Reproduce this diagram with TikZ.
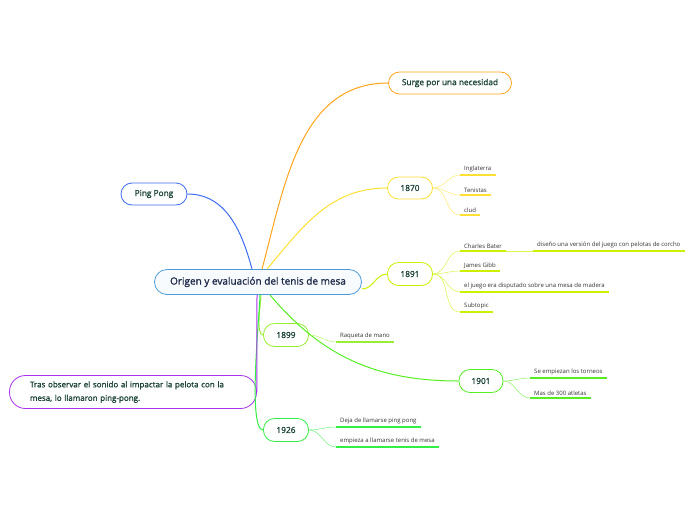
\documentclass[tikz,border=0pt]{standalone}
\usepackage{fontspec}
\setmainfont{Open Sans}
\newfontfamily\semifont{Open Sans}[BoldFont=Open Sans, BoldFeatures={FakeBold=1.2}]
\usepackage{tikz}
\usetikzlibrary{positioning, calc}
\usepackage{xcolor}
\definecolor{xblue}{HTML}{3D6BF0}
\definecolor{xorange}{HTML}{FFA31A}
\definecolor{xyellow}{HTML}{FFE033}
\definecolor{xlime}{HTML}{CCF000}
\definecolor{xgreena}{HTML}{99EE33}
\definecolor{xgreenb}{HTML}{55EE22}
\definecolor{xgreenc}{HTML}{33EE44}
\definecolor{xpurple}{HTML}{AA33EE}
\definecolor{xcentre}{HTML}{4A9BD8}
\definecolor{xnavy}{HTML}{1E2A4A}
\definecolor{xtext}{HTML}{1C4436}
\tikzset{
	topic/.style={draw, thick, fill=white, rounded corners=11pt, minimum height=22pt, inner xsep=8pt, text=xtext, font=\semifont\bfseries\fontsize{8.3}{10}\selectfont},
	leaf/.style={inner xsep=4pt, inner ysep=2.5pt, anchor=south west, text=black!80, font=\fontsize{6}{7}\selectfont},
	branch/.style={line width=1pt},
	twig/.style={line width=0.5pt},
	under/.style={line width=1.5pt},
}

\begin{document}
\begin{tikzpicture}[x=1pt, y=-1pt]
	\useasboundingbox (0,0) rectangle (696,520);

% Central topic
	\node[topic, draw=xcentre, fill=xcentre!4, minimum width=207pt, minimum height=25pt, rounded corners=12.5pt, text=xnavy, font=\semifont\bfseries\fontsize{10}{12}\selectfont] (root) at (258,282) {Origen y evaluación del tenis de mesa};

% Main topics
	\node[topic, draw=xorange, minimum width=123pt] (surge) at (450,83) {Surge por una necesidad};
	\node[topic, draw=xblue, minimum width=66pt] (ping) at (154,194) {Ping Pong};
	\node[topic, draw=xyellow, minimum width=45pt] (y1870) at (410,188) {1870};
	\node[topic, draw=xlime, minimum width=45pt, minimum height=23pt] (y1891) at (410,274) {1891};
	\node[topic, draw=xgreena, minimum width=45pt, minimum height=23pt] (y1899) at (286,335) {1899};
	\node[topic, draw=xgreenb, minimum width=44pt, minimum height=23pt] (y1901) at (481,381) {1901};
	\node[topic, draw=xgreenc, minimum width=45pt, minimum height=23pt] (y1926) at (286,430) {1926};
	\node[topic, draw=xpurple, minimum width=247pt, minimum height=33pt, rounded corners=16pt, text width=206pt, align=left, font=\semifont\bfseries\fontsize{8}{13.5}\selectfont] (tras) at (133,392)
		{Tras observar el sonido al impactar la pelota con la mesa, lo llamaron ping-pong.};

	\draw[branch, xblue] ([xshift=-6]root.north) to[out=105, in=0] (ping.east);
	\draw[branch, xorange] ([xshift=4]root.north) to[out=75, in=180] (surge.west);
	\draw[branch, xyellow] ([xshift=9]root.north) to[out=50, in=180] (y1870.west);
	\draw[branch, xlime] ([yshift=-7]root.east) to[out=0, in=180] (y1891.west);
	\draw[branch, xgreenb] ([xshift=12]root.south) to[out=-50, in=180] (y1901.west);
	\draw[branch, xgreena] ([xshift=3]root.south) to[out=-90, in=180, looseness=0.5] (y1899.west);
	\draw[branch, xgreenc] ([xshift=2]root.south) to[out=-90, in=180, looseness=0.3] (y1926.west);
	\draw[branch, xpurple] ([xshift=-1]root.south) -- (tras.east);

% 1870
	\node[leaf] (ingl) at (460,175) {Inglaterra};
	\node[leaf] (tenis) at (460,195) {Tenistas};
	\node[leaf] (clud) at (460,215) {clud};
	\foreach \n in {ingl, tenis, clud} {
		\draw[under, xyellow] (\n.south west) -- (\n.south east);
		\draw[twig, xyellow!70] (y1870.east) to[out=0, in=180] (\n.south west);
	}

% 1891
	\node[leaf] (bater) at (460,251) {Charles Bater};
	\node[leaf] (corcho) at (533,251) {diseño una versión del juego con pelotas de corcho};
	\node[leaf] (gibb) at (460,271) {James Gibb};
	\node[leaf] (madera) at (460,292) {el juego era disputado sobre una mesa de madera};
	\node[leaf] (subt) at (460,312) {Subtopic};
	\foreach \n in {bater, gibb, madera, subt} {
		\draw[under, xlime] (\n.south west) -- (\n.south east);
		\draw[twig, xlime!70] (y1891.east) to[out=0, in=180] (\n.south west);
	}
	\draw[under, xlime] (corcho.south west) -- (corcho.south east);
	\draw[twig, xlime!70] (bater.south east) -- (corcho.south west);

% 1899
	\node[leaf] (raqueta) at (336,342) {Raqueta de mano};
	\draw[under, xgreena] (raqueta.south west) -- (raqueta.south east);
	\draw[twig, xgreena!70] (y1899.east) to[out=0, in=180] (raqueta.south west);

% 1901
	\node[leaf] (torneos) at (530,378) {Se empiezan los torneos};
	\node[leaf] (atletas) at (530,398) {Mas de 300 atletas};
	\foreach \n in {torneos, atletas} {
		\draw[under, xgreenb] (\n.south west) -- (\n.south east);
		\draw[twig, xgreenb!70] (y1901.east) to[out=0, in=180] (\n.south west);
	}

% 1926
	\node[leaf] (deja) at (336,427) {Deja de llamarse ping pong};
	\node[leaf] (empieza) at (336,447) {empieza a llamarse tenis de mesa};
	\foreach \n in {deja, empieza} {
		\draw[under, xgreenc] (\n.south west) -- (\n.south east);
		\draw[twig, xgreenc!70] (y1926.east) to[out=0, in=180] (\n.south west);
	}
\end{tikzpicture}
\end{document}
